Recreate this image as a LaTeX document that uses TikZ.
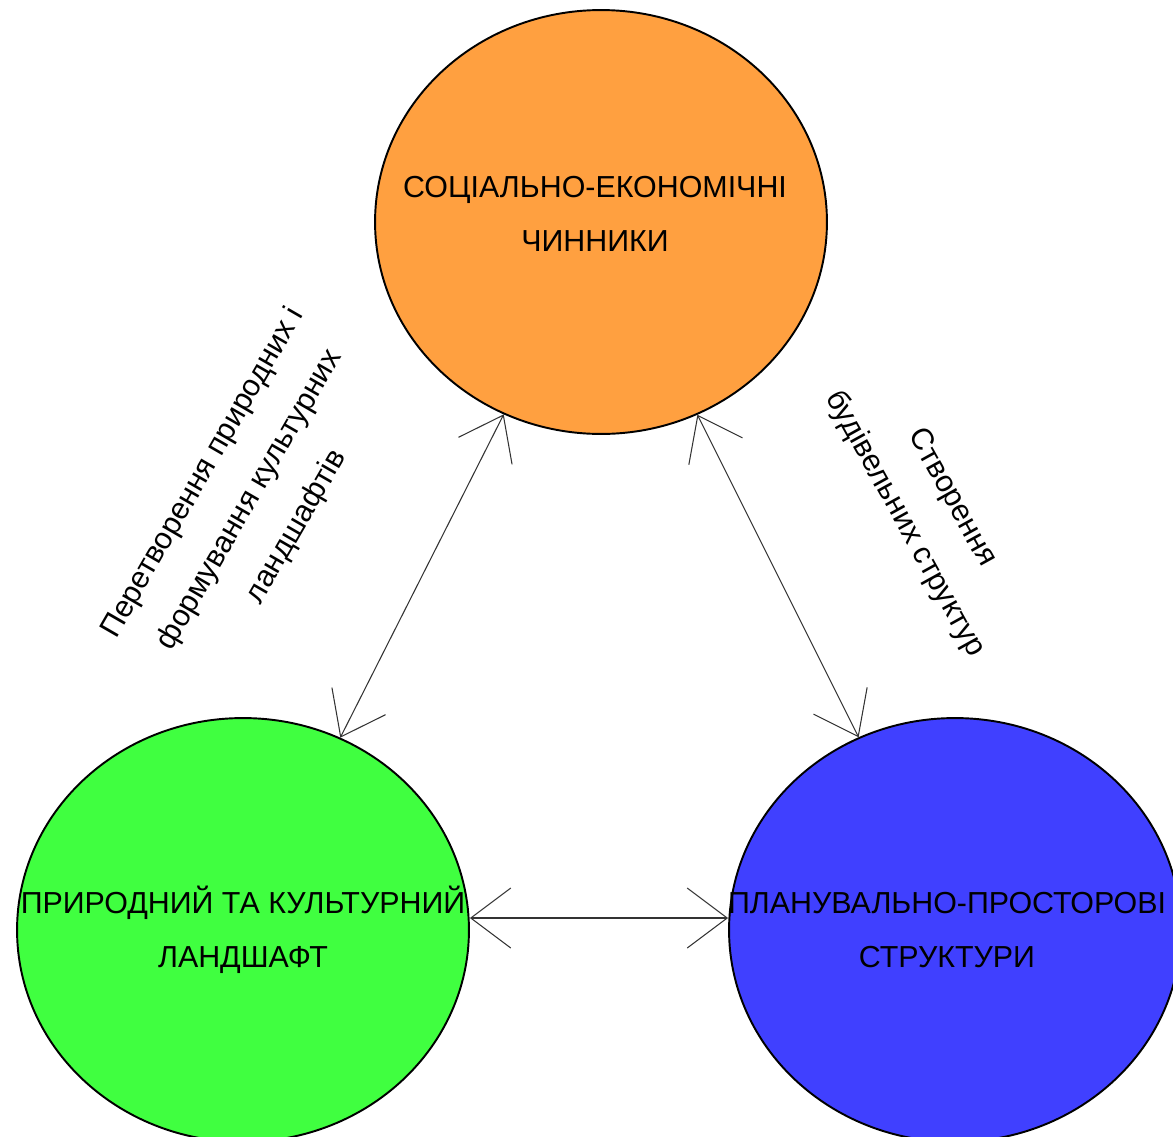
\documentclass[tikz,border=0pt]{standalone}
\usepackage{fontspec}
\setmainfont{Liberation Sans}
\usetikzlibrary{shapes.geometric, arrows.meta}
\definecolor{socorange}{RGB}{255,160,64}
\definecolor{natgreen}{RGB}{64,255,64}
\definecolor{planblue}{RGB}{64,64,255}
\definecolor{linkgray}{RGB}{51,51,51}
\tikzset{
  factor/.style={ellipse, draw=black, line width=1.1pt,
    minimum width=9.04cm, minimum height=8.48cm, inner sep=0pt},
  factortext/.style={align=center, inner sep=0pt,
    font=\fontsize{17.3}{30.7}\selectfont},
  note/.style={align=center, inner sep=0pt,
    font=\fontsize{17.3}{30.7}\selectfont},
  link/.style={{Straight Barb[length=8mm,width=12mm]}-{Straight Barb[length=8mm,width=12mm]},
    line width=0.6pt, color=linkgray}
}

\begin{document}
\begin{tikzpicture}[x=0.02cm, y=-0.02cm]
  \useasboundingbox (0,0) rectangle (1173,1136);

  % Factors
  \node[factor, fill=socorange, label={[factortext, xshift=-0.12cm, yshift=0.16cm]center:{СОЦІАЛЬНО-ЕКОНОМІЧНІ\\ЧИННИКИ}}] (socio) at (601,222) {};
  \node[factor, fill=natgreen, label={[factortext]center:{ПРИРОДНИЙ ТА КУЛЬТУРНИЙ\\ЛАНДШАФТ}}] (land) at (243,930) {};
  \node[factor, fill=planblue, label={[factortext, xshift=-0.16cm]center:{ПЛАНУВАЛЬНО-ПРОСТОРОВІ\\СТРУКТУРИ}}] (plan) at (955,930) {};

  % Notes along the links
  \node[note, rotate=60] (reshape) at (250,500) {Перетворення природних і\\формування культурних\\ландшафтів};
  \node[note, rotate=-61] (build) at (928,511) {Створення\\будівельних структур};

  % Links
  \draw[link] (socio) -- (land);
  \draw[link] (socio) -- (plan);
  \draw[link] ([yshift=0.24cm]land.east) -- ([yshift=0.24cm]plan.west);
\end{tikzpicture}
\end{document}
